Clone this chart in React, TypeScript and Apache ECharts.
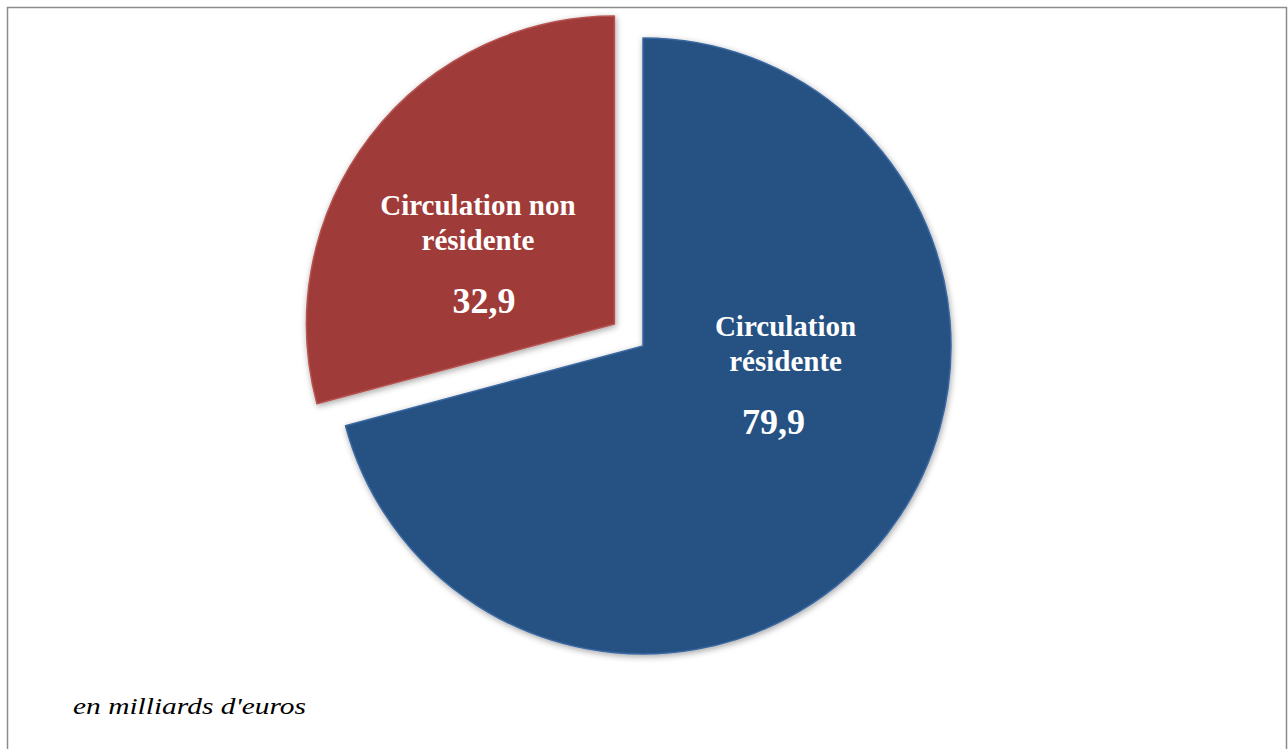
import React, { useEffect, useRef } from "react";
import * as echarts from "echarts";

const categories = ["Circulation\nrésidente", "Circulation non\nrésidente"];
const values = [79.9, 32.9];
const colors = ["#265183", "#9f3b39"];
const edgeColors = ["#3a67a0", "#b55350"];
const exploded = [false, true];
const footnote = "en milliards d'euros";

const SERIF = '"Liberation Serif", "Times New Roman", Tinos, serif';

export default function App() {
  const ref = useRef<HTMLDivElement>(null);
  useEffect(() => {
    if (!ref.current) return;
    const chart = echarts.init(ref.current, undefined, { renderer: "svg" });
    const valuePadding = [
      [0, 24, 0, 0],
      [0, 0, 0, 12],
    ];
    const data = values.map((v, i) => ({
      name: categories[i],
      value: v,
      selected: exploded[i],
      itemStyle: {
        color: colors[i],
        borderColor: edgeColors[i],
        borderWidth: 1.5,
        shadowBlur: 6,
        shadowColor: "rgba(0,0,0,0.35)",
        shadowOffsetX: 1,
        shadowOffsetY: 2,
      },
      select: {
        itemStyle: {
          color: colors[i],
          borderColor: edgeColors[i],
          borderWidth: 1.5,
        },
      },
      label: {
        rich: {
          v: {
            fontSize: 36,
            lineHeight: 86,
            fontWeight: "bold",
            color: "#fff",
            fontFamily: SERIF,
            padding: valuePadding[i],
          },
        },
      },
    }));
    const labelShift = [
      { dx: 18, dy: -55 },
      { dx: -12, dy: 37 },
    ];
    chart.setOption({
      animation: false,
      backgroundColor: "#ffffff",
      textStyle: { fontFamily: SERIF },
      graphic: [
        {
          type: "rect",
          shape: { x: 7.5, y: 7.5, width: 1279, height: 800 },
          style: { fill: "none", stroke: "#8c8c8c", lineWidth: 1.5 },
          silent: true,
        },
        {
          type: "text",
          x: 73,
          y: 695,
          scaleX: 1.28,
          style: {
            text: footnote,
            fill: "#000",
            fontStyle: "italic",
            fontSize: 23,
            fontFamily: SERIF,
            verticalAlign: "top",
          },
          silent: true,
        },
      ],
      series: [
        {
          type: "pie",
          center: [643, 346],
          radius: [0, 308],
          startAngle: 90,
          clockwise: true,
          selectedMode: "single",
          selectedOffset: 36,
          avoidLabelOverlap: false,
          emphasis: { disabled: true },
          labelLine: { show: false },
          label: {
            show: true,
            position: "inside",
            color: "#fff",
            fontFamily: SERIF,
            fontWeight: "bold",
            formatter: (p: any) => {
              const lines = String(p.name).split("\n").map((l: string) => `{n|${l}}`);
              const v = Number(p.value).toFixed(1).replace(".", ",");
              return lines.join("\n") + `\n{v|${v}}`;
            },
            rich: {
              n: {
                fontSize: 29,
                lineHeight: 35,
                fontWeight: "bold",
                color: "#fff",
                fontFamily: SERIF,
              },
              v: {
                fontSize: 36,
                lineHeight: 86,
                fontWeight: "bold",
                color: "#fff",
                fontFamily: SERIF,
              },
            },
          },
          labelLayout: (params: any) => labelShift[params.dataIndex],
          data,
        },
      ],
    });
    return () => chart.dispose();
  }, []);
  return (
    <div
      ref={ref}
      style={{ position: "fixed", left: 0, top: 0, width: 1288, height: 749 }}
    />
  );
}
